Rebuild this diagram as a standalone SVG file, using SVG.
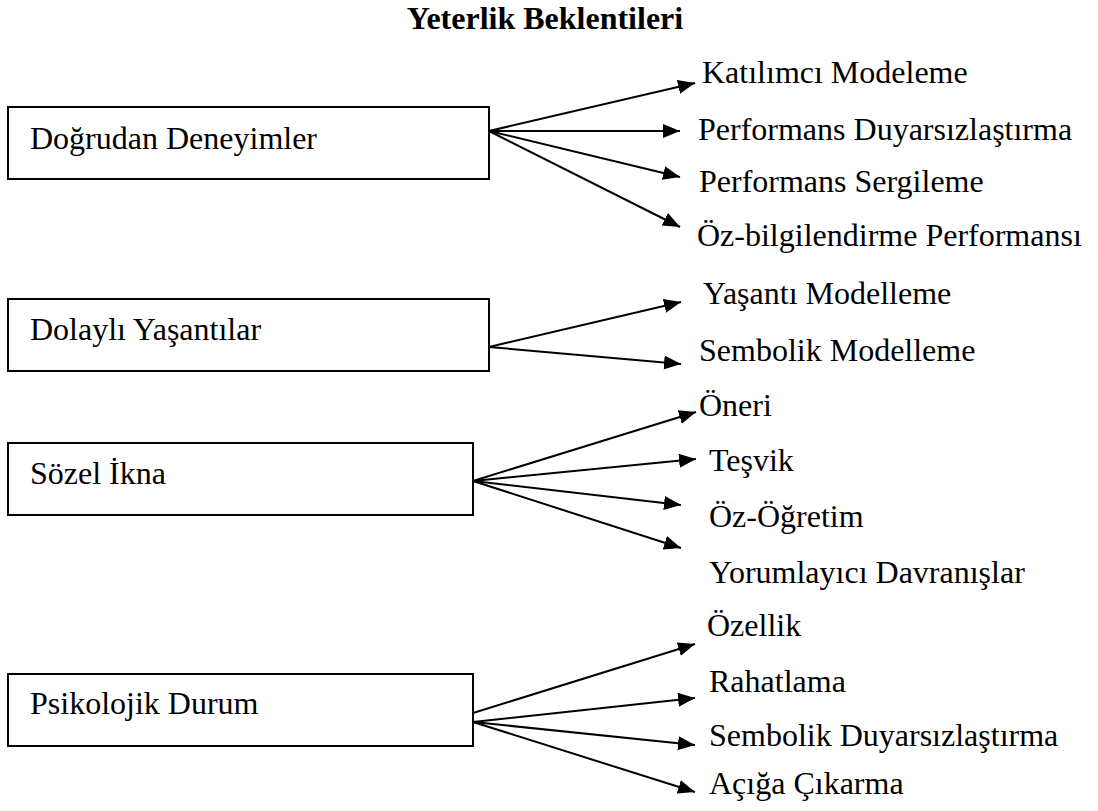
<svg xmlns="http://www.w3.org/2000/svg" width="1098" height="811" viewBox="0 0 1098 811">
  <style>
    .box { fill: #fff; stroke: #000; stroke-width: 2; }
    text { font-family: "Liberation Serif", Tinos, "DejaVu Serif", "Noto Serif", serif; font-size: 32px; fill: #000; }
    .title { font-weight: bold; }
    .edge { stroke: #000; stroke-width: 2; fill: none; marker-end: url(#head); }
  </style>
  <defs>
    <marker id="head" markerUnits="userSpaceOnUse" markerWidth="18" markerHeight="15" refX="17" refY="7" orient="auto">
      <path d="M0,0 L17,7 L0,14 z" fill="#000"/>
    </marker>
  </defs>
  <rect width="1098" height="811" fill="#fff"/>

  <text class="title" x="545" y="29" text-anchor="middle">Yeterlik Beklentileri</text>

  <g id="connectors">
    <line class="edge" x1="489" y1="131" x2="695" y2="83"/>
    <line class="edge" x1="489" y1="131" x2="680" y2="131"/>
    <line class="edge" x1="489" y1="131" x2="680" y2="177"/>
    <line class="edge" x1="489" y1="131" x2="680" y2="227"/>

    <line class="edge" x1="489" y1="347" x2="681" y2="302"/>
    <line class="edge" x1="489" y1="347" x2="681" y2="364"/>

    <line class="edge" x1="473" y1="481" x2="696" y2="412"/>
    <line class="edge" x1="473" y1="481" x2="696" y2="459"/>
    <line class="edge" x1="473" y1="481" x2="681" y2="505"/>
    <line class="edge" x1="473" y1="481" x2="681" y2="548"/>

    <line class="edge" x1="473" y1="713" x2="695" y2="644"/>
    <line class="edge" x1="473" y1="722" x2="695" y2="698"/>
    <line class="edge" x1="473" y1="722" x2="695" y2="745"/>
    <line class="edge" x1="473" y1="722" x2="695" y2="792"/>
  </g>

  <g id="node-dogrudan">
    <rect class="box" x="8" y="107" width="481" height="72"/>
    <text x="30" y="149">Doğrudan Deneyimler</text>
  </g>
  <g id="node-dolayli">
    <rect class="box" x="8" y="299" width="481" height="72"/>
    <text x="30" y="340">Dolaylı Yaşantılar</text>
  </g>
  <g id="node-sozel">
    <rect class="box" x="8" y="443" width="465" height="72"/>
    <text x="30" y="484">Sözel İkna</text>
  </g>
  <g id="node-psikolojik">
    <rect class="box" x="8" y="674" width="465" height="72"/>
    <text x="30" y="714">Psikolojik Durum</text>
  </g>

  <g id="items-dogrudan">
    <text x="702" y="83">Katılımcı Modeleme</text>
    <text x="698" y="140">Performans Duyarsızlaştırma</text>
    <text x="699" y="192">Performans Sergileme</text>
    <text x="697" y="246">Öz-bilgilendirme Performansı</text>
  </g>
  <g id="items-dolayli">
    <text x="703" y="304">Yaşantı Modelleme</text>
    <text x="699" y="361">Sembolik Modelleme</text>
  </g>
  <g id="items-sozel">
    <text x="699" y="416">Öneri</text>
    <text x="709" y="471">Teşvik</text>
    <text x="709" y="527">Öz-Öğretim</text>
    <text x="709" y="583">Yorumlayıcı Davranışlar</text>
  </g>
  <g id="items-psikolojik">
    <text x="707" y="636">Özellik</text>
    <text x="709" y="692">Rahatlama</text>
    <text x="709" y="746">Sembolik Duyarsızlaştırma</text>
    <text x="709" y="794">Açığa Çıkarma</text>
  </g>
</svg>
